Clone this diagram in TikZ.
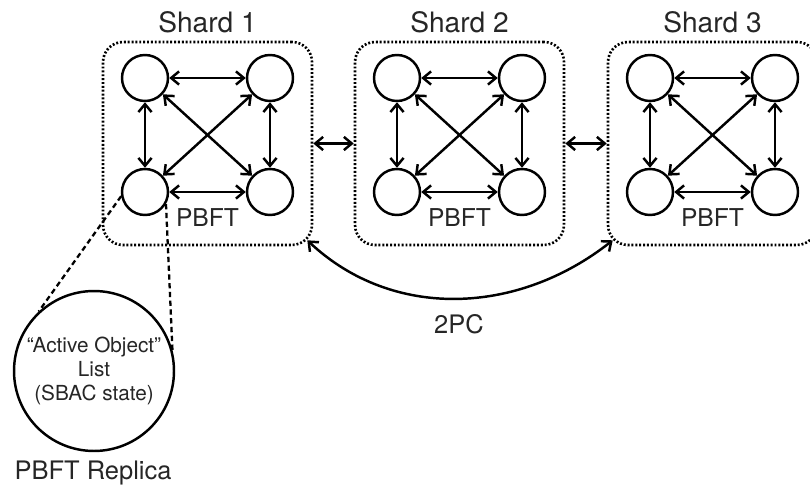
\documentclass[tikz,border=0pt]{standalone}
\usepackage{fontspec}
\setmainfont{TeX Gyre Heros}
\usetikzlibrary{arrows.meta,positioning}

\begin{document}
\begin{tikzpicture}[x=0.02cm, y=-0.02cm,
		replica/.style={draw, circle, line width=1.4pt, minimum size=0.92cm, inner sep=0pt},
		shard/.style={draw, line width=1.5pt, dash pattern=on 1.1pt off 1.1pt, rounded corners=0.4cm,
			minimum width=4.18cm, minimum height=4.06cm},
		link/.style={{Straight Barb[length=4.5pt,width=7.5pt]}-{Straight Barb[length=4.5pt,width=7.5pt]}, line width=1.4pt},
		zoomline/.style={line width=1.3pt, dash pattern=on 3pt off 2pt},
		lbl/.style={text=black!85, font=\fontsize{14}{16}\selectfont}]
			%%%%% START %%%%%
			
			\useasboundingbox (0,0) rectangle (810,489);
			
			% three shards, each a PBFT group of four replicas
			\foreach \s/\x in {1/0, 2/252, 3/505} {
				\node[shard] (s\s) at (\x+207.5, 143.5) {};
				\node[lbl, font=\fontsize{16}{19}\selectfont, above=1pt of s\s] (t\s) {Shard \s};
				
				\node[replica] (a\s) at (\x+145, 78) {};
				\node[replica] (b\s) at (\x+270, 78) {};
				\node[replica] (c\s) at (\x+145, 192) {};
				\node[replica] (d\s) at (\x+270, 192) {};
				\node[lbl] (p\s) at (\x+207.5, 218) {PBFT};
				
				\draw[link] (a\s) -- (b\s);
				\draw[link] (c\s) -- (d\s);
				\draw[link] (a\s) -- (c\s);
				\draw[link] (b\s) -- (d\s);
				\draw[link] (a\s) -- (d\s);
				\draw[link] (b\s) -- (c\s);
			}
			
			\draw[link] (s1) -- (s2);
			\draw[link] (s2) -- (s3);
			
			% 2PC between shard 1 and shard 3
			\coordinate (e1) at ([shift={(-6,-6)}]s1.south east);
			\coordinate (e3) at ([shift={(6,-6)}]s3.south west);
			\draw[link] (e1) .. controls +(85,80) and +(-95,75) .. (e3);
			\node[lbl, font=\fontsize{14.5}{17}\selectfont] (tpc) at (459, 324) {2PC};
			
			% one replica blown up
			\node[draw, circle, line width=1.4pt, minimum size=3.2cm, inner sep=0pt, align=center,
				lbl, font=\fontsize{11.8}{13.7}\selectfont] (rep) at (94, 371)
				{``Active Object''\\List\\(SBAC state)};
			\node[lbl, font=\fontsize{14.5}{17}\selectfont] (replab) at (93, 473) {PBFT Replica};
			
			\draw[zoomline] (c1.190) -- (rep.133);
			\draw[zoomline] (c1.-30) -- (rep.15);
			
			%%%%% END %%%%%
		\end{tikzpicture}
\end{document}
